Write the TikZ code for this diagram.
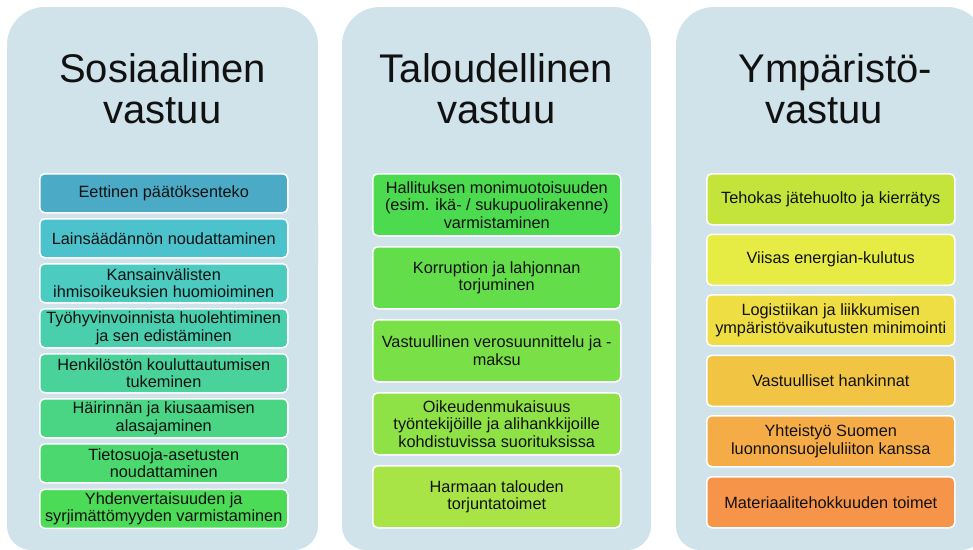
\documentclass[tikz,border=0pt]{standalone}
\usepackage{fontspec}
\setmainfont{Liberation Sans}
\definecolor{panelbg}{HTML}{D0E2EA}
\definecolor{txt}{HTML}{111111}
\definecolor{sA}{HTML}{4BABC6}
\definecolor{sB}{HTML}{4CC2CD}
\definecolor{sC}{HTML}{4CCBC1}
\definecolor{sD}{HTML}{4ACFAE}
\definecolor{sE}{HTML}{4AD29B}
\definecolor{sF}{HTML}{4AD585}
\definecolor{sG}{HTML}{4AD86F}
\definecolor{sH}{HTML}{4CDB57}
\definecolor{tA}{HTML}{4CDB4F}
\definecolor{tB}{HTML}{63DD4A}
\definecolor{tC}{HTML}{7AE048}
\definecolor{tD}{HTML}{8FE246}
\definecolor{tE}{HTML}{A9E447}
\definecolor{yA}{HTML}{C4E43C}
\definecolor{yB}{HTML}{E7EC44}
\definecolor{yC}{HTML}{EEDE44}
\definecolor{yD}{HTML}{F2C443}
\definecolor{yE}{HTML}{F5AC46}
\definecolor{yF}{HTML}{F6954A}
\tikzset{
  heading/.style={anchor=base, align=center, inner sep=0pt, text=txt,
    font=\fontsize{40pt}{41pt}\selectfont},
  itembox/.style={anchor=north west, rectangle, rounded corners=5pt, draw=white,
    line width=1.5pt, minimum width=248pt, align=center, inner sep=0pt, text=txt,
    font=\fontsize{16.3pt}{17.5pt}\selectfont},
  sbox/.style={itembox, minimum height=39pt},
  tbox/.style={itembox, minimum height=62pt},
  ybox/.style={itembox, minimum height=51pt}
}
\begin{document}
\begin{tikzpicture}[x=1pt,y=-1pt]
\useasboundingbox (0,0) rectangle (973,549);
% panels
\foreach \xa/\xb in {7/318, 342/651, 676/985}{
  \fill[panelbg, rounded corners=38pt] (\xa,7) rectangle (\xb,300);
  \fill[panelbg, rounded corners=24pt] (\xa,200) rectangle (\xb,550);
}
% headings
\node[heading] (hs) at (162.5,123) {Sosiaalinen\\vastuu};
\node[heading] (ht) at (496.5,123) {Taloudellinen\\vastuu};
\node[heading] (hy) at (835,123) {Ympäristö-\\vastuu\hspace*{22pt}};
% social
\node[sbox, fill=sA] (s1) at (39,173) {Eettinen päätöksenteko};
\node[sbox, fill=sB] (s2) at (39,218) {Lainsäädännön noudattaminen};
\node[sbox, fill=sC] (s3) at (39,263) {Kansainvälisten\\ihmisoikeuksien huomioiminen};
\node[sbox, fill=sD] (s4) at (39,308) {Työhyvinvoinnista huolehtiminen\\ja sen edistäminen};
\node[sbox, fill=sE] (s5) at (39,353) {Henkilöstön kouluttautumisen\\tukeminen};
\node[sbox, fill=sF] (s6) at (39,398) {Häirinnän ja kiusaamisen\\alasajaminen};
\node[sbox, fill=sG] (s7) at (39,443) {Tietosuoja-asetusten\\noudattaminen};
\node[sbox, fill=sH] (s8) at (39,488.5) {Yhdenvertaisuuden ja\\syrjimättömyyden varmistaminen};
% economic
\node[tbox, fill=tA] (t1) at (372,173) {Hallituksen monimuotoisuuden\\(esim. ikä- / sukupuolirakenne)\\varmistaminen};
\node[tbox, fill=tB] (t2) at (372,246) {Korruption ja lahjonnan\\torjuminen};
\node[tbox, fill=tC] (t3) at (372,319) {Vastuullinen verosuunnittelu ja -\\maksu};
\node[tbox, fill=tD] (t4) at (372,392) {Oikeudenmukaisuus\\työntekijöille ja alihankkijoille\\kohdistuvissa suorituksissa};
\node[tbox, fill=tE] (t5) at (372,465) {Harmaan talouden\\torjuntatoimet};
% environmental
\node[ybox, fill=yA] (y1) at (706,173) {Tehokas jätehuolto ja kierrätys};
\node[ybox, fill=yB] (y2) at (706,233.5) {Viisas energian-kulutus};
\node[ybox, fill=yC] (y3) at (706,294) {Logistiikan ja liikkumisen\\ympäristövaikutusten minimointi};
\node[ybox, fill=yD] (y4) at (706,354.5) {Vastuulliset hankinnat};
\node[ybox, fill=yE] (y5) at (706,415) {Yhteistyö Suomen\\luonnonsuojeluliiton kanssa};
\node[ybox, fill=yF] (y6) at (706,476) {Materiaalitehokkuuden toimet};
\end{tikzpicture}
\end{document}
